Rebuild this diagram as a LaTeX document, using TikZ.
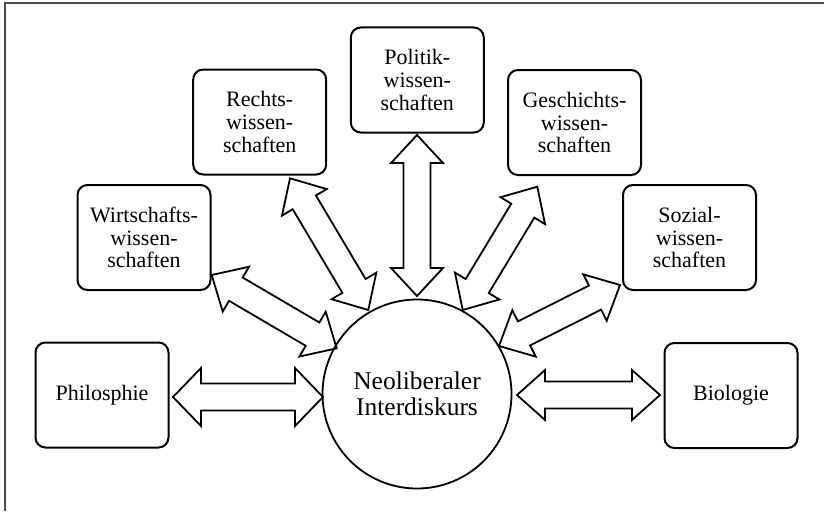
\documentclass[tikz,border=0pt]{standalone}
\usepackage{fontspec}
\setmainfont{Liberation Serif}
\usetikzlibrary{calc}
\definecolor{framegray}{HTML}{4A4A4A}
\begin{document}
\begin{tikzpicture}[x=1pt,y=-1pt,
  box/.style={draw, line width=2pt, rounded corners=10pt, minimum width=133pt,
    minimum height=105pt, align=center, inner sep=0pt,
    font=\fontsize{22}{22.8}\selectfont},
  hub/.style={draw, circle, line width=1.8pt, minimum size=189pt, align=center,
    inner sep=0pt, font=\fontsize{25.5}{26.5}\selectfont},
  blk/.style={line width=1.8pt, line join=miter, to path={
    let \p1=(\tikztostart), \p2=(\tikztotarget),
        \n1={atan2(\y2-\y1,\x2-\x1)} in
    (\p1) -- ($(\p1)+(\n1:28pt)+(\n1+90:#1)$)
          -- ($(\p1)+(\n1:28pt)+(\n1+90:13.5pt)$)
          -- ($(\p2)+(\n1+180:28pt)+(\n1+90:13.5pt)$)
          -- ($(\p2)+(\n1+180:28pt)+(\n1+90:#1)$)
          -- (\p2)
          -- ($(\p2)+(\n1+180:28pt)+(\n1-90:#1)$)
          -- ($(\p2)+(\n1+180:28pt)+(\n1-90:13.5pt)$)
          -- ($(\p1)+(\n1:28pt)+(\n1-90:13.5pt)$)
          -- ($(\p1)+(\n1:28pt)+(\n1-90:#1)$)
          -- cycle}},
  blk/.default=26pt]
\useasboundingbox (0,0) rectangle (824,511);
\draw[framegray, line width=2pt] (4.5,511) -- (4.5,3.5) -- (824,3.5);

\node[hub] (hub) at (417,394) {Neoliberaler\\Interdiskurs};
\node[box] (phil) at (102,395) {Philosphie};
\node[box] (bio) at (731,395.5) {Biologie};
\node[box] (wirt) at (144,237.5) {Wirtschafts-\\wissen-\\schaften};
\node[box] (recht) at (259.7,122) {Rechts-\\wissen-\\schaften};
\node[box] (pol) at (417.3,80) {Politik-\\wissen-\\schaften};
\node[box] (gesch) at (574.5,122.5) {Geschichts-\\wissen-\\schaften};
\node[box] (soz) at (689.5,237.5) {Sozial-\\wissen-\\schaften};

\coordinate (a1s) at (173,397);   \coordinate (a1e) at (323,397);
\coordinate (a2s) at (517,395);   \coordinate (a2e) at (660,395);
\coordinate (a3s) at (211.7,275); \coordinate (a3e) at (336.7,348.3);
\coordinate (a4s) at (290,178.3); \coordinate (a4e) at (368.3,310);
\coordinate (a5s) at (417,135);   \coordinate (a5e) at (417,296);
\coordinate (a6s) at (537.3,186.7); \coordinate (a6e) at (462.7,310);
\coordinate (a7s) at (620,285);   \coordinate (a7e) at (499,346);

\draw[blk=29pt] (a1s) to (a1e);
\draw[blk=25pt] (a2s) to (a2e);
\draw[blk] (a3s) to (a3e);
\draw[blk] (a4s) to (a4e);
\draw[blk] (a5s) to (a5e);
\draw[blk] (a6s) to (a6e);
\draw[blk] (a7s) to (a7e);
\end{tikzpicture}
\end{document}
